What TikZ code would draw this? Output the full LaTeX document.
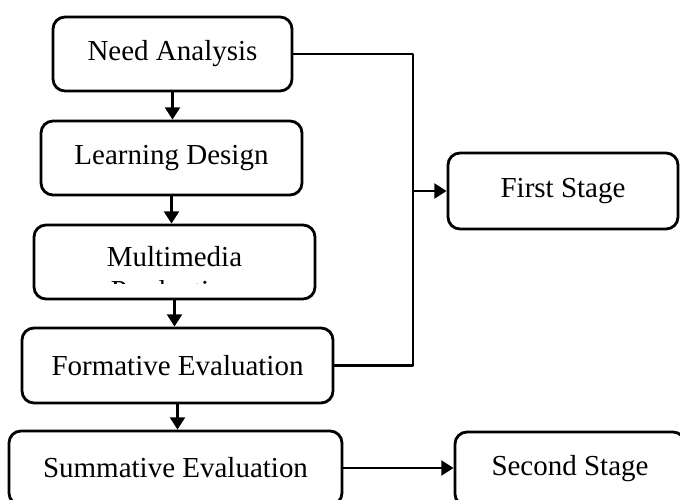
\documentclass[tikz,border=0pt]{standalone}
\usepackage{fontspec}
\setmainfont{Liberation Serif}
\usetikzlibrary{arrows.meta}
\tikzset{
  stagebox/.style={draw, line width=1.6pt, rounded corners=0.24cm, inner sep=0pt, align=center},
  flow/.style={line width=1.5pt, -{Triangle[length=7pt,width=8.5pt]}},
}
\begin{document}
\begin{tikzpicture}[x=0.02cm, y=-0.02cm, font=\fontsize{16.5}{20}\selectfont, line join=round]
\useasboundingbox (0,0) rectangle (680,500);
% steps
\node[stagebox, minimum width=239*0.02cm, minimum height=74*0.02cm] (need) at (172.5,54) {Need Analysis};
\node[stagebox, minimum width=261*0.02cm, minimum height=74*0.02cm] (learn) at (171.5,158) {Learning Design};
\node[stagebox, minimum width=281*0.02cm, minimum height=74*0.02cm] (multi) at (174.5,262) {};
\node (multitext) at (174.5,257) {Multimedia};
\begin{scope}
\clip (40,280.5) rectangle (300,283.5);
\node[anchor=base] (prod) at (174.5,300) {Production};
\end{scope}
\node[stagebox, minimum width=311*0.02cm, minimum height=75*0.02cm] (form) at (177.5,365.5) {Formative Evaluation};
\node[stagebox, minimum width=333*0.02cm, minimum height=74*0.02cm] (summ) at (175.5,468) {Summative Evaluation};
% stages
\node[stagebox, minimum width=230*0.02cm, minimum height=76*0.02cm] (first) at (563,191) {First Stage};
\node[stagebox, minimum width=230*0.02cm, minimum height=74*0.02cm] (second) at (570,469) {Second Stage};
% arrows
\draw[flow] (need.south) -- (need.south |- learn.north);
\draw[flow] (learn.south) -- (learn.south |- multi.north);
\draw[flow] (multi.south) -- (multi.south |- form.north);
\draw[flow] (form.south) -- (form.south |- summ.north);
\coordinate (bus) at (413,191);
\draw[line width=1.5pt] (need.east) -| (bus) |- (form.east);
\draw[flow] (bus) -- (first.west);
\draw[flow] (summ.east) -- (summ.east -| second.west);
\end{tikzpicture}
\end{document}
